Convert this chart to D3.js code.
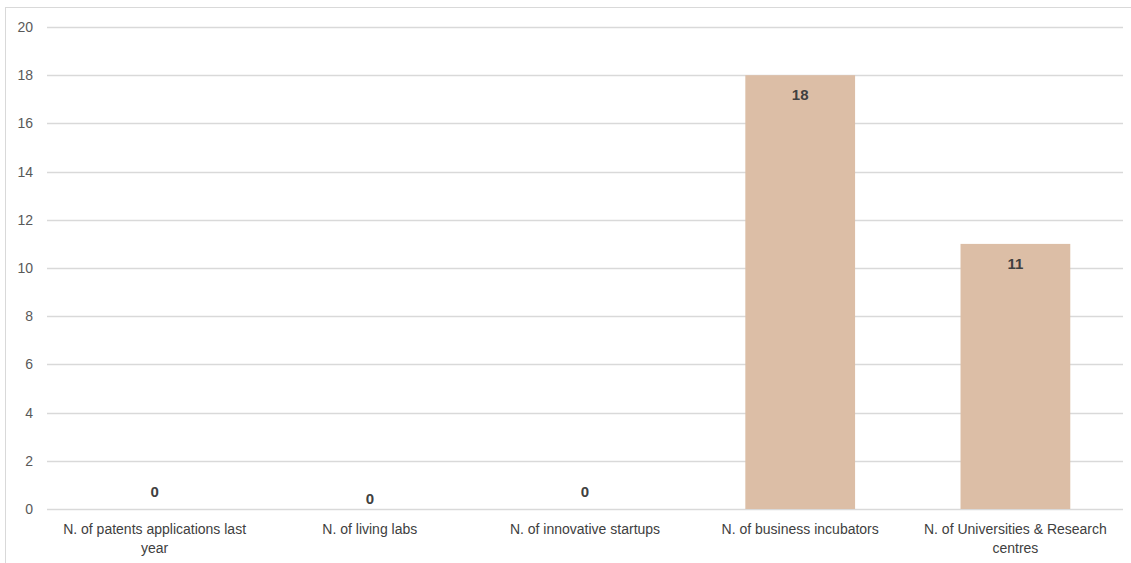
<!DOCTYPE html>
<html><head><meta charset="utf-8">
<script src="https://cdn.jsdelivr.net/npm/d3@7"></script>
<style>
html,body{margin:0;padding:0;background:#fff;}
svg{display:block;}
</style></head>
<body>
<script>
const categories = [
  "N. of patents applications last year",
  "N. of living labs",
  "N. of innovative startups",
  "N. of business incubators",
  "N. of Universities & Research centres"
];
const values = [0, 0, 0, 18, 11];
const yTicks = [0, 2, 4, 6, 8, 10, 12, 14, 16, 18, 20];

const W = 1131, H = 563;
const FONT = "Liberation Sans, Arial, sans-serif";
const svg = d3.select("body").append("svg").attr("width", W).attr("height", H);

// chart border
svg.append("rect").attr("x", 5.5).attr("y", 7.5).attr("width", W + 10).attr("height", H + 10)
  .attr("fill", "none").attr("stroke", "#d9d9d9").attr("stroke-width", 1);

const x = d3.scaleBand().domain(categories).range([47, 1123]).paddingInner(0.49).paddingOuter(0.245);
const y = d3.scaleLinear().domain([0, 20]).range([509, 27]);

// gridlines
svg.append("g").selectAll("line").data(yTicks).join("line")
  .attr("x1", 47).attr("x2", 1123)
  .attr("y1", d => Math.round(y(d)) + 0.5).attr("y2", d => Math.round(y(d)) + 0.5)
  .attr("stroke", "#d9d9d9").attr("stroke-width", 1.3);

// y axis labels
const yAxis = d3.axisLeft(y).tickValues(yTicks).tickSize(0).tickPadding(0);
const gy = svg.append("g").attr("transform", "translate(33,0)").call(yAxis);
gy.select(".domain").remove();
gy.selectAll("text").attr("fill", "#595959").style("font-family", FONT).style("font-size", "14px");

// bars
svg.append("g").selectAll("rect").data(values).join("rect")
  .attr("x", (d, i) => x(categories[i]))
  .attr("width", x.bandwidth())
  .attr("y", d => y(d))
  .attr("height", d => y(0) - y(d))
  .attr("fill", "#dcbea6");

// value labels
svg.append("g").selectAll("text").data(values).join("text")
  .attr("x", (d, i) => x(categories[i]) + x.bandwidth() / 2)
  .attr("y", (d, i) => d > 0 ? y(d) + 25 : y(0) - 12 + (i === 1 ? 7 : 0))
  .attr("text-anchor", "middle")
  .attr("fill", "#404040")
  .style("font-family", FONT)
  .style("font-size", "15px").style("font-weight", "bold")
  .text(d => d);

// category labels (wrapped)
function wrap(str, maxW) {
  const words = str.split(" ");
  const lines = []; let cur = "";
  const ctx = document.createElement("canvas").getContext("2d");
  ctx.font = "14px 'Liberation Sans'";
  words.forEach(w => {
    const t = cur ? cur + " " + w : w;
    if (ctx.measureText(t).width > maxW && cur) { lines.push(cur); cur = w; } else cur = t;
  });
  lines.push(cur);
  return lines;
}
const xl = svg.append("g");
categories.forEach((c, i) => {
  const lines = wrap(c, 200);
  const t = xl.append("text")
    .attr("x", x(c) + x.bandwidth() / 2)
    .attr("y", 534)
    .attr("text-anchor", "middle")
    .attr("fill", "#404040")
    .style("font-family", FONT)
    .style("font-size", "14px");
  lines.forEach((l, j) => t.append("tspan").attr("x", x(c) + x.bandwidth() / 2).attr("dy", j ? 19 : 0).text(l));
});
</script>
</body></html>
